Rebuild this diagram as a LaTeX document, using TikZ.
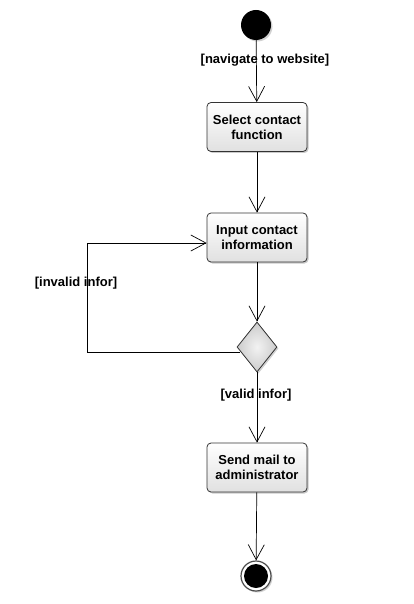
\documentclass[tikz,border=0pt]{standalone}
\usepackage{fontspec}
\setmainfont{Liberation Sans}
\usetikzlibrary{arrows.meta,shapes.geometric,shadows,calc}
\begin{document}
\begin{tikzpicture}[x=1pt,y=-1pt,
  every node/.style={font=\fontsize{13}{15}\selectfont\bfseries},
  act/.style={draw=black!80,line width=0.8pt,rounded corners=4pt,minimum width=100pt,minimum height=49pt,
    align=center,inner sep=2pt,top color=white,bottom color=black!12,
    drop shadow={shadow xshift=1.5pt,shadow yshift=-1.5pt,opacity=0.35,fill=black!60}},
  dec/.style={diamond,draw=black!80,line width=0.8pt,minimum width=40pt,minimum height=50pt,aspect=0.8,inner sep=0pt,
    inner color=black!5,outer color=black!20,
    drop shadow={shadow xshift=1.5pt,shadow yshift=-1.5pt,opacity=0.3,fill=black!60}},
  flow/.style={draw=black,line width=0.7pt,-{Straight Barb[length=15pt,width=16pt,line width=0.7pt]}},
  lbl/.style={fill=none,inner sep=1pt}]
\useasboundingbox (0,0) rectangle (414,604);
\node[circle,fill=black,minimum size=30pt,inner sep=0pt,
  drop shadow={shadow xshift=1.5pt,shadow yshift=-1.5pt,opacity=0.3,fill=black!60}] (start) at (256,25) {};
\node[act] (b1) at (257,127) {Select contact\\function};
\node[act] (b2) at (257,237.5) {Input contact\\information};
\node[dec] (d) at (257,347) {};
\node[act] (b3) at (257,467.5) {Send mail to\\administrator};
\node[circle,draw=black!70,line width=1.2pt,fill=white,minimum size=30pt,inner sep=0pt,
  drop shadow={shadow xshift=1.5pt,shadow yshift=-1.5pt,opacity=0.3,fill=black!60}] (end) at (256,576) {};
\node[circle,fill=black,minimum size=24pt,inner sep=0pt] (endin) at (256,576) {};
\coordinate (lb) at (87,352);
\coordinate (lt) at (87,243);
\draw[flow] (start) -- (b1);
\draw[flow] (b1) -- (b2);
\draw[flow] (b2) -- (d);
\draw[flow] (d) -- (b3);
\draw[flow] (b3) -- (end);
\draw[flow] ($(d.west)+(3,5)$) -- (lb) -- (lt) -- (b2.west |- lt);
\node[lbl] at (265,60) {[navigate to website]};
\node[lbl] at (76,283) {[invalid infor]};
\node[lbl] at (256,395) {[valid infor]};
\end{tikzpicture}
\end{document}
